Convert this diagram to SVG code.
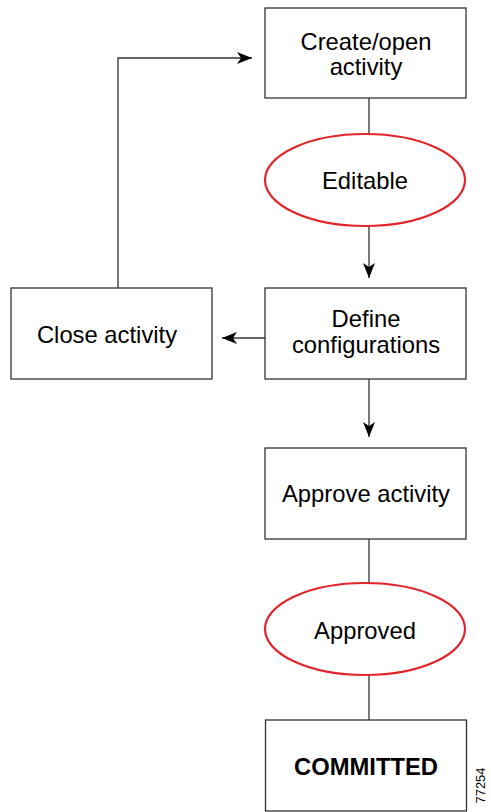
<svg xmlns="http://www.w3.org/2000/svg" width="491" height="812" viewBox="0 0 491 812">
<defs>
<marker id="ah" viewBox="0 0 15 12" refX="15" refY="6" markerWidth="15" markerHeight="12" markerUnits="userSpaceOnUse" orient="auto">
<path d="M0,0 L15,6 L0,12 L4,6 Z" fill="#000"/>
</marker>
<style>
.box{fill:#fff;stroke:#333;stroke-width:1.3}
.st{fill:#fff;stroke:#e3242b;stroke-width:2.2}
.t{font-family:"Liberation Sans",Arial,sans-serif;font-size:23.8px;fill:#000;text-anchor:middle}
.b{font-weight:bold}
.ln{fill:none;stroke:#333;stroke-width:1.3}
</style>
</defs>
<g id="connectors">
<line class="ln" x1="369" y1="98" x2="369" y2="134"/>
<line class="ln" x1="369" y1="226" x2="369" y2="278" marker-end="url(#ah)"/>
<line class="ln" x1="265" y1="338" x2="222" y2="338" marker-end="url(#ah)"/>
<polyline class="ln" points="118,288 118,58 252,58" marker-end="url(#ah)"/>
<line class="ln" x1="369" y1="379" x2="369" y2="437" marker-end="url(#ah)"/>
<line class="ln" x1="369" y1="539" x2="369" y2="583"/>
<line class="ln" x1="369" y1="675" x2="369" y2="720"/>
</g>
<g id="create">
<rect class="box" x="265" y="8" width="201" height="90"/>
<text class="t" x="366" y="49.5">Create/open</text>
<text class="t" x="366" y="74.5">activity</text>
</g>
<g id="editable">
<ellipse class="st" cx="365" cy="180" rx="100" ry="46"/>
<text class="t" x="365" y="189">Editable</text>
</g>
<g id="close">
<rect class="box" x="11" y="288" width="201" height="91"/>
<text class="t" x="107" y="342.5">Close activity</text>
</g>
<g id="define">
<rect class="box" x="265" y="288" width="201" height="91"/>
<text class="t" x="366" y="327">Define</text>
<text class="t" x="366" y="353">configurations</text>
</g>
<g id="approve">
<rect class="box" x="265" y="448" width="201" height="91"/>
<text class="t" x="366" y="501.5">Approve activity</text>
</g>
<g id="approved">
<ellipse class="st" cx="365" cy="629" rx="100" ry="46"/>
<text class="t" x="365" y="639">Approved</text>
</g>
<g id="committed">
<rect class="box" x="265.5" y="720" width="201" height="91"/>
<text class="t b" x="366" y="775">COMMITTED</text>
</g>
<text x="485" y="785.5" transform="rotate(-90 485 785.5)" style="font-family:'Liberation Sans',Arial,sans-serif;font-size:13px;text-anchor:middle;fill:#000">77254</text>
</svg>
